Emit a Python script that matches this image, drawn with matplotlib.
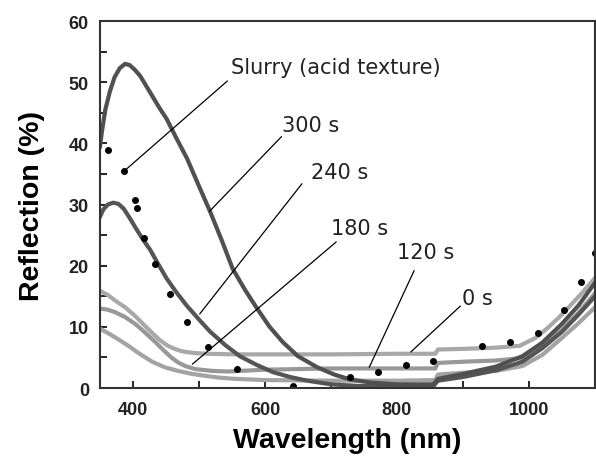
import matplotlib
matplotlib.use("Agg")
import matplotlib.pyplot as plt
from matplotlib.ticker import MultipleLocator

plt.rcParams['font.family'] = ['Liberation Sans', 'DejaVu Sans']

# reflection spectra (nm, %)
x_300 = [350, 353, 358, 365, 372, 380, 388, 395, 403, 411, 425, 440, 451, 465, 482, 500, 517, 535,
         551, 570, 588, 607, 627, 650, 679, 705, 729, 760, 800, 855, 862, 900, 950, 990, 1020, 1050,
         1075, 1100]
y_300 = [39.5, 42, 45.5, 48.5, 50.8, 52.3, 53, 52.8, 52, 51, 48.5, 45.8, 44, 41, 37.5, 33, 28.8, 24,
         19.5, 16, 13, 10, 7.5, 5.2, 3.4, 2.2, 1.4, 0.9, 0.6, 0.6, 1.5, 2.3, 3.5, 5.2, 7.4, 10.5,
         13.5, 17.2]

x_240 = [350, 355, 362, 370, 378, 386, 395, 405, 415, 426, 438, 451, 466, 482, 500, 517, 540, 562,
         587, 612, 638, 664, 700, 740, 800, 855, 862, 900, 950, 990, 1020, 1050, 1075, 1100]
y_240 = [28, 29.2, 30, 30.3, 30.1, 29.3, 27.8, 26, 24.3, 22.6, 20.3, 17.9, 15.6, 13.4, 11.2, 9.2, 7,
         5.2, 3.8, 2.6, 1.8, 1.2, 0.6, 0.35, 0.3, 0.3, 1.2, 1.8, 2.9, 4.3, 6.5, 9.2, 12, 15]

x_0 = [350, 362, 373, 388, 403, 416, 429, 441, 453, 463, 473, 483, 495, 514, 550, 600, 700, 800,
       858, 862, 900, 950, 986, 1010, 1027, 1045, 1062, 1080, 1100]
y_0 = [15.9, 15.2, 14.3, 13.2, 11.8, 10.4, 9.0, 7.8, 6.9, 6.4, 6.05, 5.85, 5.7, 5.6, 5.5, 5.5, 5.5,
       5.6, 5.6, 6.3, 6.4, 6.6, 6.9, 8.2, 9.7, 11.5, 13.4, 15.5, 18]

x_120 = [350, 362, 373, 388, 403, 418, 433, 448, 458, 468, 479, 494, 520, 544, 600, 700, 800, 858,
         862, 900, 950, 990, 1020, 1050, 1075, 1100]
y_120 = [13, 12.8, 12.4, 11.6, 10.5, 9.1, 7.6, 6.0, 5.0, 4.2, 3.6, 3.1, 2.8, 2.7, 3.0, 3.2, 3.2, 3.2,
         4.1, 4.3, 4.5, 4.9, 6.8, 9.5, 12.3, 15.5]

x_180 = [350, 365, 380, 393, 410, 429, 448, 468, 490, 509, 530, 555, 600, 700, 800, 858, 862, 900,
         950, 990, 1020, 1050, 1075, 1100]
y_180 = [9.7, 8.8, 7.8, 6.9, 5.6, 4.3, 3.4, 2.8, 2.3, 2.0, 1.7, 1.5, 1.3, 1.2, 1.2, 1.3, 2.2, 2.5,
         2.8, 3.6, 5.4, 8.2, 10.6, 13.2]

x_slurry = [362, 387, 403, 406, 416, 433, 456, 482, 514, 557, 642, 729, 771, 814, 855, 929, 971,
            1014, 1053, 1079, 1100]
y_slurry = [38.9, 35.4, 30.8, 29.4, 24.6, 20.3, 15.4, 10.8, 6.7, 3.1, 0.3, 1.8, 2.6, 3.8, 4.4, 6.9,
            7.6, 9.0, 12.8, 17.4, 22]

labels = ["Slurry (acid texture)", "300 s", "240 s", "180 s", "120 s", "0 s"]

fig = plt.figure(figsize=(5.96, 4.6), dpi=100)
ax = fig.add_axes([0.1678, 0.1543, 0.8305, 0.7978])

ax.plot(x_180, y_180, color='#a3a3a3', lw=3)
ax.plot(x_120, y_120, color='#989898', lw=3)
ax.plot(x_0, y_0, color='#a8a8a8', lw=3)
ax.plot(x_240, y_240, color='#555555', lw=3)
ax.plot(x_300, y_300, color='#505050', lw=3)
ax.plot(x_slurry, y_slurry, 'o', color='black', ms=4, ls='none')

# labels with leader lines: (text pos), (line start), (line end)
text_pos = [(548, 51.5), (626, 42.1), (670, 34.3), (700, 25.1), (800, 21.3), (898, 13.8)]
line_start = [(543, 50.2), (625, 41.1), (656, 33.4), (708, 23.9), (826, 19.2), (896, 13.4)]
line_end = [(388, 35.6), (516, 28.9), (501, 12.1), (490, 3.9), (758, 3.4), (821, 5.9)]

for lab, tp, s, e in zip(labels, text_pos, line_start, line_end):
    ax.text(tp[0], tp[1], lab, family='DejaVu Sans', fontsize=15, color='#222222',
            ha='left', va='baseline')
    ax.annotate('', xy=e, xytext=s,
                arrowprops=dict(arrowstyle='-', lw=0.9, color='black', shrinkA=0, shrinkB=0))

ax.set_xlim(350, 1100)
ax.set_ylim(0, 60)
ax.xaxis.set_major_locator(MultipleLocator(200))
ax.xaxis.set_minor_locator(MultipleLocator(100))
ax.yaxis.set_major_locator(MultipleLocator(10))
ax.yaxis.set_minor_locator(MultipleLocator(5))
ax.tick_params(which='both', direction='in', length=5, width=1.2, top=False, right=False,
               labelsize=13, labelcolor='#222222')
ax.tick_params(axis='x', pad=9)
ax.tick_params(axis='y', pad=8)
for t in ax.get_xticklabels() + ax.get_yticklabels():
    t.set_fontweight('bold')
for sp in ax.spines.values():
    sp.set_linewidth(1.5)
    sp.set_color('#333333')

ax.set_xlabel("Wavelength (nm)", fontsize=20.5, fontweight='bold', labelpad=7)
ax.set_ylabel("Reflection (%)", fontsize=20.5, fontweight='bold', labelpad=17)

fig.savefig("out.png", dpi=100)
